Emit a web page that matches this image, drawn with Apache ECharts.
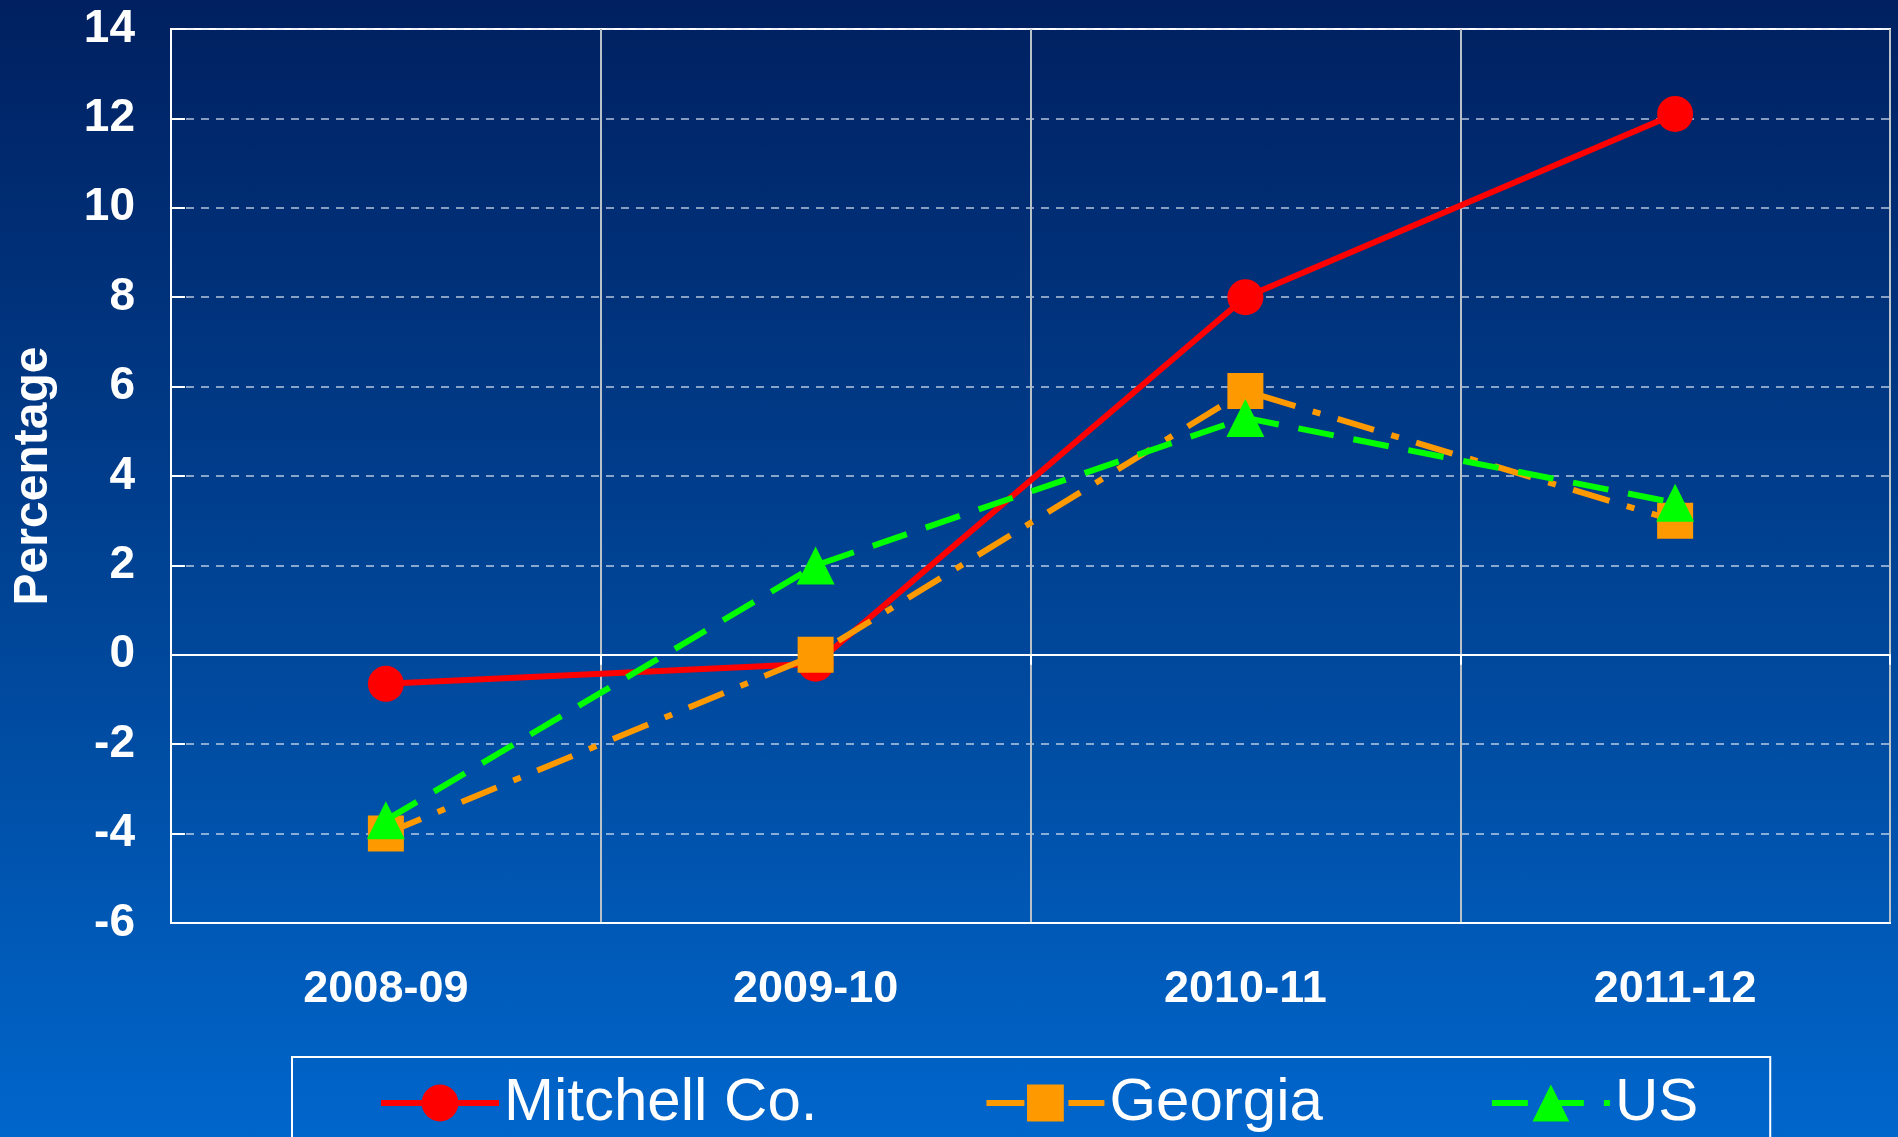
<!DOCTYPE html>
<html><head><meta charset="utf-8">
<script src="https://cdn.jsdelivr.net/npm/echarts@6/dist/echarts.min.js"></script>
<style>
html,body{margin:0;padding:0;}
#c{width:1898px;height:1137px;background:linear-gradient(to bottom,#002060 0%,#0050A8 70%,#0066CC 100%);}
</style></head>
<body><div id="c"></div>
<script>
const categories = ['2008-09','2009-10','2010-11','2011-12'];
const mitchell = [-0.65, -0.2, 8.0, 12.1];
const georgia = [-4.0, 0.0, 5.9, 3.0];
const us = [-3.7, 2.0, 5.3, 3.4];
const seriesNames = ['Mitchell Co.', 'Georgia', 'US'];

const chart = echarts.init(document.getElementById('c'), null, {renderer:'canvas'});
const F = 'Liberation Sans, Arial, sans-serif';
chart.setOption({
  backgroundColor: 'transparent',
  animation: false,
  grid: {left:171, right:8, top:29, bottom:214, show:true, borderColor:'#ffffff', borderWidth:2, backgroundColor:'transparent'},
  legend: {
    data: seriesNames, left:292, top:1057, orient:'horizontal',
    itemWidth:118, itemHeight:46, itemGap:166,
    padding:[16,72,60,86], borderColor:'#ffffff', borderWidth:2,
    lineStyle:{width:6},
    textStyle:{color:'#ffffff', fontSize:60, fontFamily:'Liberation Sans Narrow, Liberation Sans, Arial'}
  },
  xAxis: [{
    type:'category', data:categories, boundaryGap:true, position:'bottom',
    axisLine:{show:true, onZero:false, lineStyle:{color:'#ffffff', width:2}},
    axisTick:{show:false},
    splitLine:{show:true, lineStyle:{color:'#b8c0c8', width:2, type:'solid'}},
    axisLabel:{color:'#ffffff', fontSize:45, fontWeight:'bold', fontFamily:F, margin:44}
  },{
    type:'category', data:categories, boundaryGap:true, position:'bottom',
    axisLine:{show:true, onZero:true, lineStyle:{color:'#ffffff', width:2}},
    axisTick:{show:true, inside:false, length:10, lineStyle:{color:'#ffffff', width:2}},
    axisLabel:{show:false}, splitLine:{show:false}
  }],
  yAxis: {
    type:'value', min:-6, max:14, interval:2,
    name:'Percentage', nameLocation:'middle', nameGap:113,
    nameTextStyle:{color:'#ffffff', fontSize:48, fontWeight:'bold', fontFamily:F},
    axisLine:{show:true, lineStyle:{color:'#ffffff', width:2}},
    axisTick:{show:true, inside:true, length:14, lineStyle:{color:'#ffffff', width:2}},
    axisLabel:{color:'#ffffff', fontSize:46, fontWeight:'bold', fontFamily:F, margin:36},
    splitLine:{show:true, lineStyle:{color:'rgba(225,235,245,0.8)', width:1.5, type:[8,7]}}
  },
  series: [
    {name:seriesNames[0], type:'line', data:mitchell, symbol:'circle', symbolSize:36,
     itemStyle:{color:'#FF0000'}, lineStyle:{color:'#FF0000', width:6, type:'solid'}, z:2},
    {name:seriesNames[1], type:'line', data:georgia, symbol:'rect', symbolSize:36,
     itemStyle:{color:'#FF9900'}, lineStyle:{color:'#FF9900', width:6, type:[38,18,8,18]}, z:3},
    {name:seriesNames[2], type:'line', data:us, symbol:'triangle', symbolSize:[38,38],
     itemStyle:{color:'#00FF00'}, lineStyle:{color:'#00FF00', width:6, type:[36,20]}, z:4}
  ]
});
</script></body></html>
